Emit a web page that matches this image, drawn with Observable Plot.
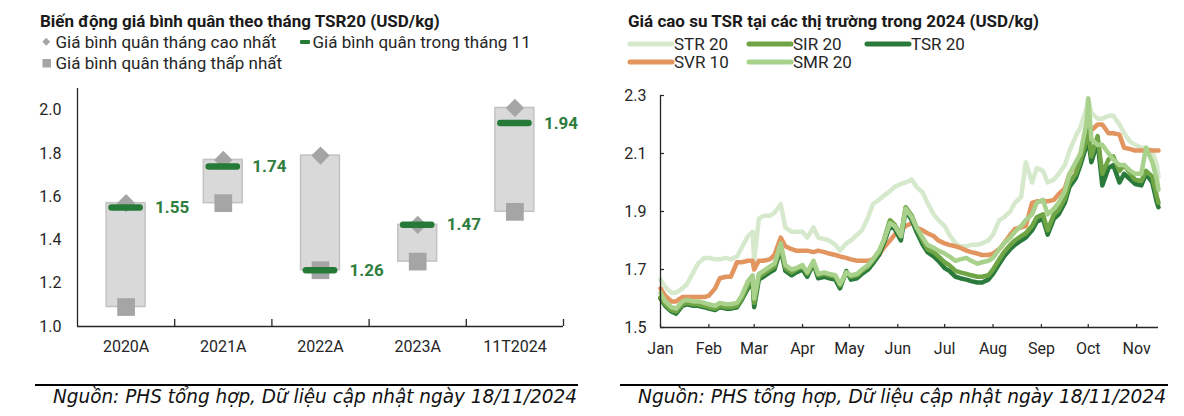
<!DOCTYPE html>
<html lang="vi">
<head>
<meta charset="utf-8">
<script src="https://cdn.jsdelivr.net/npm/d3@7"></script>
<script src="https://cdn.jsdelivr.net/npm/@observablehq/plot@0.6"></script>
<style>
  html, body { margin:0; padding:0; background:#fff; }
  #root { position:relative; width:1184px; height:416px; overflow:hidden; background:#fff; font-family: Roboto, "Noto Sans", sans-serif; }
</style>
</head>
<body>
<div id="root"></div>
<script>
// ---------------- LEFT CHART DATA ----------------
const leftTitle = "Biến động giá bình quân theo tháng TSR20 (USD/kg)";
const leftLegend = ["Giá bình quân tháng cao nhất", "Giá bình quân trong tháng 11", "Giá bình quân tháng thấp nhất"];
const categories = ["2020A", "2021A", "2022A", "2023A", "11T2024"];
const monthlyHigh = [1.57, 1.77, 1.79, 1.47, 2.01];
const monthlyLow = [1.09, 1.57, 1.26, 1.30, 1.53];
const novemberAvg = [1.55, 1.74, 1.26, 1.47, 1.94];
const leftYTicks = [1.0, 1.2, 1.4, 1.6, 1.8, 2.0];

// ---------------- RIGHT CHART DATA ----------------
const rightTitle = "Giá cao su TSR tại các thị trường trong 2024 (USD/kg)";
const seriesNames = ["STR 20", "SIR 20", "TSR 20", "SVR 10", "SMR 20"];
const seriesColors = ["#d6e9cc", "#6fa544", "#2a7a3c", "#e2955e", "#a8d18c"];
const rightYTicks = [1.5, 1.7, 1.9, 2.1, 2.3];
const monthTicks = ["2024-01-01","2024-02-01","2024-03-01","2024-04-01","2024-05-01","2024-06-01","2024-07-01","2024-08-01","2024-09-01","2024-10-01","2024-11-01"];
const monthLabels = ["Jan","Feb","Mar","Apr","May","Jun","Jul","Aug","Sep","Oct","Nov"];
const dates = [
  "2024-01-01","2024-01-04","2024-01-08","2024-01-11","2024-01-15","2024-01-18","2024-01-22","2024-01-25","2024-01-29",
  "2024-02-01","2024-02-05","2024-02-08","2024-02-12","2024-02-15","2024-02-19","2024-02-22","2024-02-26","2024-02-29",
  "2024-03-01","2024-03-04","2024-03-07","2024-03-11","2024-03-14","2024-03-18","2024-03-21","2024-03-25","2024-03-28",
  "2024-04-01","2024-04-04","2024-04-08","2024-04-11","2024-04-15","2024-04-18","2024-04-22","2024-04-25","2024-04-29",
  "2024-05-02","2024-05-06","2024-05-09","2024-05-13","2024-05-16","2024-05-20","2024-05-23","2024-05-27","2024-05-30",
  "2024-06-03","2024-06-06","2024-06-10","2024-06-13","2024-06-17","2024-06-20","2024-06-24","2024-06-27",
  "2024-07-01","2024-07-04","2024-07-08","2024-07-11","2024-07-15","2024-07-18","2024-07-22","2024-07-25","2024-07-29",
  "2024-08-01","2024-08-05","2024-08-08","2024-08-12","2024-08-15","2024-08-19","2024-08-22","2024-08-26","2024-08-29",
  "2024-09-02","2024-09-05","2024-09-09","2024-09-12","2024-09-16","2024-09-19","2024-09-23","2024-09-26","2024-09-30",
  "2024-10-01","2024-10-03","2024-10-07","2024-10-10","2024-10-14","2024-10-17","2024-10-21","2024-10-24","2024-10-28","2024-10-31",
  "2024-11-04","2024-11-07","2024-11-11","2024-11-14","2024-11-15"
];
const str20 = [
  1.665,1.64,1.62,1.62,1.635,1.65,1.69,1.72,1.74,
  1.74,1.735,1.735,1.74,1.735,1.745,1.775,1.815,1.83,
  1.73,1.875,1.885,1.885,1.895,1.925,1.845,1.83,1.83,
  1.83,1.81,1.845,1.81,1.805,1.80,1.785,1.765,1.79,
  1.80,1.82,1.835,1.88,1.925,1.94,1.955,1.97,1.985,
  1.995,2.00,2.01,1.985,1.965,1.93,1.89,1.87,
  1.85,1.82,1.79,1.78,1.78,1.785,1.785,1.79,1.80,
  1.82,1.87,1.88,1.90,1.93,1.95,2.07,2.00,2.05,
  2.04,2.00,2.01,2.03,2.06,2.11,2.16,2.19,2.26,
  2.29,2.24,2.22,2.22,2.23,2.23,2.20,2.17,2.14,2.13,
  2.12,2.12,2.11,2.06,2.02
];
const sir20 = [
  1.605,1.58,1.56,1.555,1.58,1.585,1.58,1.58,1.575,
  1.57,1.565,1.575,1.57,1.57,1.575,1.60,1.645,1.665,
  1.585,1.675,1.685,1.70,1.71,1.78,1.705,1.69,1.70,
  1.71,1.685,1.725,1.68,1.685,1.68,1.675,1.645,1.69,
  1.675,1.68,1.695,1.71,1.73,1.76,1.80,1.87,1.855,
  1.815,1.915,1.885,1.845,1.80,1.77,1.76,1.745,
  1.725,1.715,1.695,1.69,1.685,1.68,1.675,1.675,1.68,
  1.70,1.735,1.76,1.785,1.80,1.815,1.825,1.85,1.88,
  1.89,1.835,1.89,1.905,1.945,2.00,2.03,2.075,2.15,
  2.18,2.09,2.16,2.03,2.08,2.09,2.04,2.06,2.03,2.01,
  2.005,2.04,2.02,1.95,1.93
];
const tsr20 = [
  1.60,1.575,1.555,1.548,1.575,1.58,1.575,1.575,1.57,
  1.565,1.56,1.57,1.565,1.565,1.57,1.595,1.635,1.655,
  1.57,1.665,1.675,1.69,1.70,1.77,1.695,1.68,1.69,
  1.70,1.675,1.72,1.67,1.675,1.67,1.665,1.635,1.695,
  1.665,1.67,1.685,1.70,1.72,1.75,1.79,1.85,1.84,
  1.80,1.905,1.87,1.83,1.785,1.76,1.745,1.73,
  1.705,1.695,1.675,1.67,1.665,1.66,1.655,1.655,1.665,
  1.685,1.72,1.745,1.77,1.785,1.80,1.81,1.835,1.865,
  1.875,1.82,1.875,1.89,1.93,1.985,2.015,2.06,2.13,
  2.15,2.07,2.14,1.99,2.05,2.06,2.00,2.03,2.01,1.995,
  1.99,2.03,2.00,1.93,1.915
];
const svr10 = [
  1.635,1.61,1.59,1.59,1.605,1.605,1.605,1.605,1.605,
  1.61,1.635,1.67,1.675,1.675,1.725,1.725,1.73,1.73,
  1.70,1.73,1.73,1.735,1.75,1.81,1.78,1.77,1.765,
  1.765,1.765,1.76,1.765,1.76,1.755,1.75,1.745,1.74,
  1.735,1.73,1.73,1.73,1.735,1.75,1.775,1.80,1.82,
  1.835,1.85,1.86,1.845,1.835,1.825,1.815,1.80,
  1.79,1.785,1.78,1.775,1.765,1.76,1.755,1.75,1.75,
  1.755,1.77,1.79,1.82,1.84,1.845,1.85,1.93,1.935,
  1.935,1.935,1.94,1.96,1.98,2.03,2.06,2.10,2.15,
  2.19,2.18,2.20,2.20,2.17,2.17,2.165,2.12,2.115,2.11,
  2.11,2.11,2.11,2.11,2.11
];
const smr20 = [
  1.62,1.59,1.57,1.565,1.59,1.595,1.59,1.59,1.585,
  1.58,1.575,1.585,1.58,1.58,1.585,1.61,1.66,1.68,
  1.60,1.685,1.695,1.71,1.72,1.79,1.715,1.70,1.705,
  1.715,1.69,1.73,1.685,1.69,1.685,1.68,1.65,1.69,
  1.68,1.685,1.70,1.715,1.735,1.765,1.80,1.86,1.85,
  1.815,1.91,1.88,1.845,1.81,1.785,1.775,1.765,
  1.755,1.745,1.73,1.735,1.74,1.73,1.72,1.725,1.73,
  1.74,1.77,1.79,1.81,1.83,1.85,1.87,1.89,1.93,
  1.94,1.89,1.91,1.93,1.97,2.03,2.07,2.10,2.21,
  2.29,2.15,2.13,2.13,2.10,2.08,2.06,2.06,2.04,2.03,
  2.03,2.12,2.07,2.01,1.975
];
const footerText = "Nguồn: PHS tổng hợp, Dữ liệu cập nhật ngày 18/11/2024";

// ---------------- BUILD ----------------
const root = document.getElementById("root");
const INK = "#262626";
const FONT = "Roboto, 'Noto Sans', sans-serif";

function place(el, left, top) {
  el.style.position = "absolute";
  el.style.left = left + "px";
  el.style.top = top + "px";
  root.appendChild(el);
}

// Header (titles + legends)
const hdr = d3.select(root).append("svg")
  .attr("width", 1184).attr("height", 80)
  .style("position", "absolute").style("left", "0px").style("top", "0px")
  .style("font-family", FONT);

hdr.append("text").attr("x", 40).attr("y", 27).attr("font-size", 17).attr("font-weight", "bold").attr("fill", "#1a1a1a").text(leftTitle);
hdr.append("text").attr("x", 628).attr("y", 27).attr("font-size", 17).attr("font-weight", "bold").attr("fill", "#1a1a1a").text(rightTitle);

// left legend
hdr.append("rect").attr("x", 43.5).attr("y", 39).attr("width", 5.5).attr("height", 5.5)
  .attr("transform", "rotate(45 46.25 41.75)").attr("fill", "#a5a5a5");
hdr.append("text").attr("x", 55.5).attr("y", 48).attr("font-size", 17).attr("fill", INK).text(leftLegend[0]);
hdr.append("rect").attr("x", 300).attr("y", 40).attr("width", 10).attr("height", 4).attr("rx", 1).attr("fill", "#267a38");
hdr.append("text").attr("x", 312.5).attr("y", 48).attr("font-size", 17).attr("fill", INK).text(leftLegend[1]);
hdr.append("rect").attr("x", 42.5).attr("y", 59).attr("width", 8.5).attr("height", 8.5).attr("fill", "#a5a5a5");
hdr.append("text").attr("x", 55.5).attr("y", 68.5).attr("font-size", 17).attr("fill", INK).text(leftLegend[2]);

// right legend
const legendPos = [[628, 44], [747, 44], [865, 44], [628, 62], [747, 62]];
seriesNames.forEach((name, i) => {
  const [lx, ly] = legendPos[i];
  hdr.append("line").attr("x1", lx + 2).attr("x2", lx + 44).attr("y1", ly).attr("y2", ly)
    .attr("stroke", seriesColors[i]).attr("stroke-width", 5).attr("stroke-linecap", "round");
  hdr.append("text").attr("x", lx + 46).attr("y", ly + 6).attr("font-size", 17).attr("fill", INK).text(name);
});

// LEFT PLOT
const N = categories.length;
const rows = categories.map((c, i) => ({i, c, high: monthlyHigh[i], low: monthlyLow[i], nov: novemberAvg[i]}));
const L = {width: 590, height: 290, marginLeft: 77, marginRight: 27, marginTop: 8, marginBottom: 44};
const leftYDomain = [1.0, 2.1];
const leftTickLen = 7 * (leftYDomain[1] - leftYDomain[0]) / (L.height - L.marginTop - L.marginBottom);
const leftPlot = Plot.plot({
  ...L,
  style: {background: "transparent", fontFamily: FONT, fontSize: "16px", color: INK, overflow: "visible"},
  x: {domain: [0, N], axis: null},
  y: {domain: leftYDomain, axis: null},
  marks: [
    Plot.rectY(rows, {x1: d => d.i + 0.3, x2: d => d.i + 0.7, y1: "low", y2: "high", fill: "#d9d9d9", stroke: "#c2c2c2", strokeWidth: 1.5}),
    Plot.dot(rows, {x: d => d.i + 0.5, y: "high", symbol: "square", r: 7.3, rotate: 45, fill: "#a5a5a5"}),
    Plot.dot(rows, {x: d => d.i + 0.5, y: "low", symbol: "square", r: 10, fill: "#a5a5a5"}),
    Plot.ruleY(rows, {y: "nov", x1: d => d.i + 0.355, x2: d => d.i + 0.645, stroke: "#267a38", strokeWidth: 6.5, strokeLinecap: "round"}),
    Plot.text(rows, {x: d => d.i + 0.5, y: "nov", text: d => d.nov.toFixed(2), dx: 29, textAnchor: "start", fill: "#2f7d3d", fontWeight: "bold", fontSize: 17}),
    Plot.ruleX([0], {stroke: INK, strokeWidth: 1.3}),
    Plot.ruleY([leftYDomain[0]], {stroke: INK, strokeWidth: 1.3}),
    Plot.ruleX(d3.range(1, N + 1), {y1: leftYDomain[0], y2: leftYDomain[0] + leftTickLen, stroke: INK, strokeWidth: 1.3}),
    Plot.axisY({ticks: leftYTicks, tickFormat: d3.format(".1f"), tickSize: 0, tickPadding: 16, fontSize: 16, label: null}),
    Plot.axisX({ticks: d3.range(N).map(i => i + 0.5), tickFormat: v => categories[Math.floor(v)], tickSize: 0, tickPadding: 14, fontSize: 16, label: null})
  ]
});
place(leftPlot, 0, 80);

// RIGHT PLOT
const parse = d3.utcParse("%Y-%m-%d");
const valuesByName = {"STR 20": str20, "SIR 20": sir20, "TSR 20": tsr20, "SVR 10": svr10, "SMR 20": smr20};
const drawOrder = ["STR 20", "SVR 10", "TSR 20", "SIR 20", "SMR 20"];
const rightRows = [];
seriesNames.forEach(name => valuesByName[name].forEach((v, j) => rightRows.push({series: name, date: parse(dates[j]), value: v})));
const R = {width: 584, height: 290, marginLeft: 60, marginRight: 26, marginTop: 15, marginBottom: 43};
const xDomain = [parse(dates[0]), parse(dates[dates.length - 1])];
const rightYDomain = [1.5, 2.3];
const innerW = R.width - R.marginLeft - R.marginRight;
const innerH = R.height - R.marginTop - R.marginBottom;
const rTickY = 3 * (rightYDomain[1] - rightYDomain[0]) / innerH;
const rTickX = 4 * (xDomain[1] - xDomain[0]) / innerW;
const rightPlot = Plot.plot({
  ...R,
  style: {background: "transparent", fontFamily: FONT, fontSize: "16px", color: INK, overflow: "visible"},
  x: {type: "utc", domain: xDomain, axis: null},
  y: {domain: rightYDomain, axis: null},
  marks: [
    ...drawOrder.map(name => Plot.lineY(rightRows.filter(r => r.series === name), {
      x: "date", y: "value", stroke: seriesColors[seriesNames.indexOf(name)], strokeWidth: 4.5, strokeLinejoin: "round", strokeLinecap: "round"
    })),
    Plot.ruleX([xDomain[0]], {stroke: INK, strokeWidth: 1.3}),
    Plot.ruleY([rightYDomain[0]], {stroke: INK, strokeWidth: 1.3}),
    Plot.ruleX(monthTicks.map(parse), {y1: rightYDomain[0], y2: rightYDomain[0] + rTickY, stroke: INK, strokeWidth: 1.2}),
    Plot.ruleY(rightYTicks, {x1: xDomain[0], x2: new Date(+xDomain[0] + rTickX), stroke: INK, strokeWidth: 1.2}),
    Plot.axisY({ticks: rightYTicks, tickFormat: d3.format(".1f"), tickSize: 0, tickPadding: 14, fontSize: 16, label: null}),
    Plot.axisX({ticks: monthTicks.map(parse), tickFormat: d => monthLabels[d.getUTCMonth()], tickSize: 0, tickPadding: 15, fontSize: 16, label: null})
  ]
});
place(rightPlot, 600, 80);

// Footer
const ft = d3.select(root).append("svg")
  .attr("width", 1184).attr("height", 46)
  .style("position", "absolute").style("left", "0px").style("top", "370px");
[[35, 578, 53, 524], [620, 1168, 638, 528]].forEach(([x1, x2, tx, tl]) => {
  ft.append("line").attr("x1", x1).attr("x2", x2).attr("y1", 15).attr("y2", 15).attr("stroke", "#000").attr("stroke-width", 2);
  ft.append("text").attr("x", tx).attr("y", 33).attr("font-size", 19).attr("font-style", "italic")
    .attr("font-family", "'Liberation Sans Narrow', 'DejaVu Sans Condensed', 'Liberation Sans', sans-serif")
    .attr("textLength", tl).attr("lengthAdjust", "spacingAndGlyphs").attr("fill", "#111").text(footerText);
});
</script>
</body>
</html>
